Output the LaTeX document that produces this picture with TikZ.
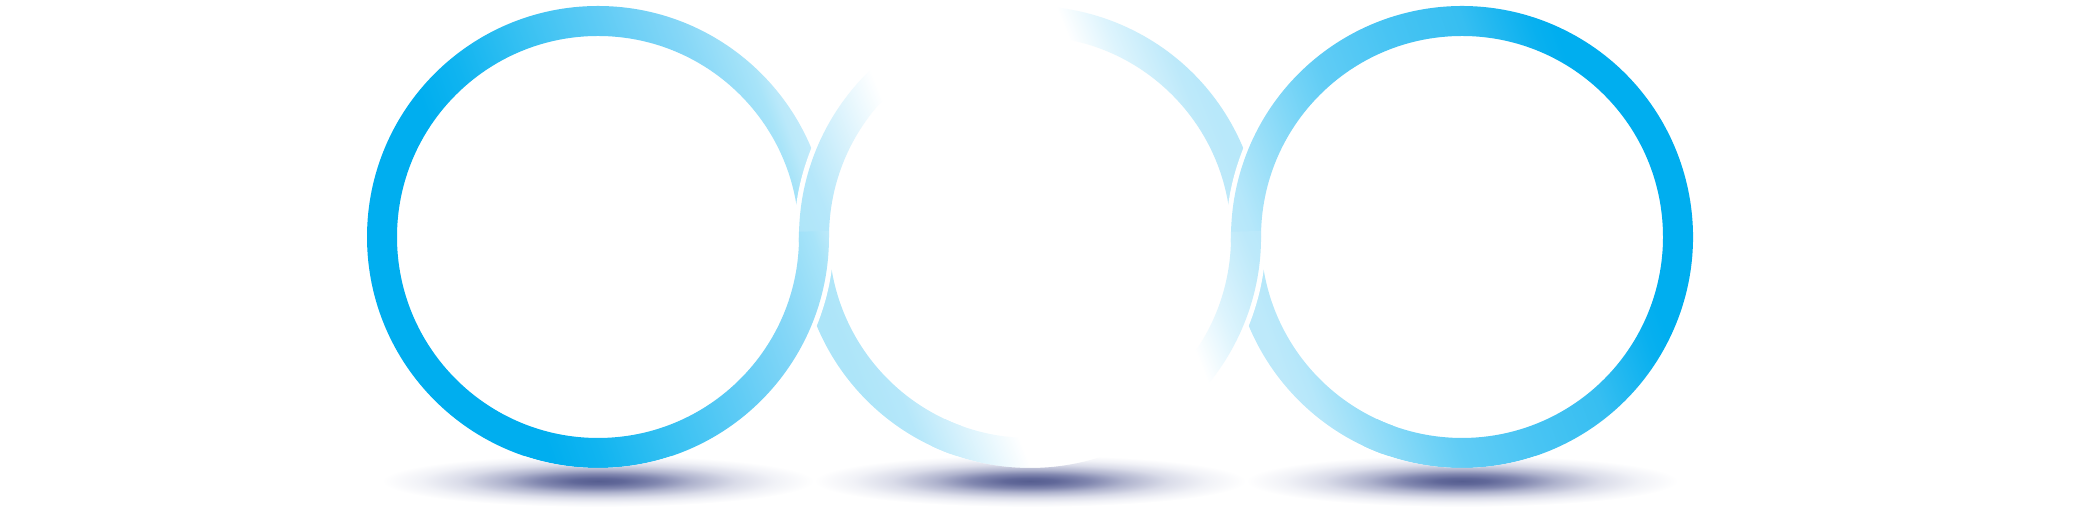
\documentclass[tikz,border=0pt]{standalone}

% colours of the rings and their shadows
\definecolor{ringblue}{HTML}{00AEEF}
\definecolor{shadowcore}{HTML}{565E90}

% gradients across each ring (50bp = ring centre, 25bp/75bp = 250 units out)
\pgfdeclarehorizontalshading{ringleft}{100bp}{%
  color(0bp)=(ringblue); color(38bp)=(ringblue);
  rgb(42.6bp)=(0.063,0.706,0.941); rgb(50bp)=(0.220,0.757,0.949);
  rgb(57.4bp)=(0.369,0.796,0.961); rgb(64.8bp)=(0.525,0.843,0.969);
  rgb(70.3bp)=(0.659,0.894,0.976); rgb(71.7bp)=(0.733,0.914,0.980);
  rgb(73.1bp)=(0.761,0.922,0.984); rgb(100bp)=(0.761,0.922,0.984)}
\pgfdeclarehorizontalshading{ringmid}{100bp}{%
  rgb(0bp)=(0.678,0.898,0.976); rgb(28.3bp)=(0.678,0.898,0.976);
  rgb(32bp)=(0.710,0.906,0.980); rgb(36bp)=(0.835,0.945,0.988);
  rgb(41.5bp)=(1,1,1); rgb(61bp)=(1,1,1);
  rgb(65bp)=(0.867,0.957,0.992); rgb(70bp)=(0.741,0.914,0.980);
  rgb(71.7bp)=(0.722,0.910,0.980); rgb(100bp)=(0.722,0.910,0.980)}
\pgfdeclarehorizontalshading{ringright}{100bp}{%
  rgb(0bp)=(0.741,0.914,0.980); rgb(28.3bp)=(0.741,0.914,0.980);
  rgb(30.5bp)=(0.710,0.906,0.980); rgb(40bp)=(0.439,0.824,0.965);
  rgb(42.6bp)=(0.376,0.800,0.961); rgb(50bp)=(0.282,0.769,0.953);
  rgb(57.4bp)=(0.212,0.745,0.945); rgb(64bp)=(0.031,0.690,0.937);
  color(66bp)=(ringblue); color(100bp)=(ringblue)}

% soft shadow (25bp = rim of the ellipse)
\pgfdeclareradialshading{ringshadow}{\pgfpointorigin}{%
  color(0bp)=(shadowcore); rgb(3bp)=(0.380,0.408,0.600);
  rgb(7bp)=(0.510,0.533,0.690); rgb(11bp)=(0.690,0.706,0.808);
  rgb(16bp)=(0.855,0.863,0.914); rgb(20.5bp)=(0.945,0.949,0.969);
  color(25bp)=(white); color(50bp)=(white)}

\tikzset{
  ring left/.style={shading=ringleft, shading angle=20},
  ring mid/.style={shading=ringmid, shading angle=22},
  ring right/.style={shading=ringright, shading angle=20},
  ring shadow/.style={shading=ringshadow},
}

% band of a ring: centre, from, to, look
\newcommand{\ringband}[4]{%
  \begin{scope}
    \clip (#1) ++(#2:231) arc[start angle=#2, end angle=#3, radius=231]
      -- ++(#3:-30) arc[start angle=#3, end angle=#2, radius=201] -- cycle;
    \shade[#4] (#1) ++(-250,-250) rectangle ++(500,500);
  \end{scope}}
% white rim round a band, so that it cuts the ring lying below
\newcommand{\ringrim}[3]{%
  \fill[white] (#1) ++(#2:236) arc[start angle=#2, end angle=#3, radius=236]
    -- ++(#3:-40) arc[start angle=#3, end angle=#2, radius=196] -- cycle;}

\begin{document}
\begin{tikzpicture}[x=0.01cm, y=0.01cm]
    \useasboundingbox (0,0) rectangle (2087,525);

    % ring centres
    \coordinate (ringL) at (598,288);
    \coordinate (ringM) at (1030,288);
    \coordinate (ringR) at (1462,288);

    % lower left arcs, which pass under the ring to their left
    \ringband{ringR}{180}{250}{ring right}
    \ringband{ringM}{180}{250}{ring mid}

    % left ring, whole
    \fill[white, even odd rule] (ringL) circle (236) (ringL) circle (196);
    \begin{scope}[even odd rule]
        \clip (ringL) circle (231) (ringL) circle (201);
        \shade[ring left] (ringL) ++(-250,-250) rectangle ++(500,500);
    \end{scope}

    % the rest of the middle and right rings
    \ringrim{ringM}{262}{540}
    \ringband{ringM}{245}{540}{ring mid}
    \ringrim{ringR}{262}{540}
    \ringband{ringR}{245}{540}{ring right}

    % short patches where two rings touch
    \ringband{ringL}{-1.5}{1.5}{ring left}
    \ringband{ringM}{-1.5}{1.5}{ring mid}

    % shadows under the rings
    \begin{scope}[even odd rule]
        \clip (0,0) rectangle (2087,140)
            (ringL) circle (231) (ringM) circle (231) (ringR) circle (231);
        \foreach \c in {ringL,ringM,ringR} {
            \shade[ring shadow, shift={(\c)}] (0,-244) ellipse [x radius=216, y radius=26];
        }
    \end{scope}
\end{tikzpicture}
\end{document}
